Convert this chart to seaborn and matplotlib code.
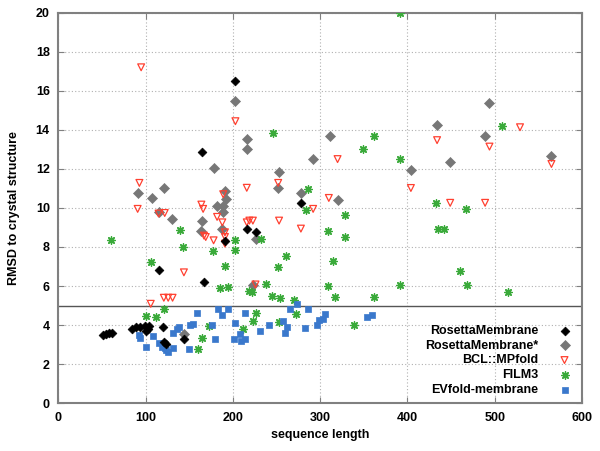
import matplotlib
matplotlib.use("Agg")
import pandas as pd
import seaborn as sns
from matplotlib import pyplot as plt

# values (sequence length, RMSD)
rosetta_x = [51, 55, 58, 62, 84, 89, 94, 99, 101, 103, 104, 120, 121, 123, 144,
             115, 167, 165, 203, 191, 216, 227, 278]
rosetta_y = [3.5, 3.55, 3.6, 3.6, 3.81, 3.88, 3.88, 3.93, 3.71, 3.79, 3.96, 3.9, 3.11, 3.05, 3.28,
             6.8, 6.22, 12.85, 16.5, 8.32, 8.92, 8.75, 10.26]

rosetta2_x = [144, 91, 121, 107, 116, 130, 165, 164, 178, 182, 189, 191, 192, 189, 188, 203,
              216, 216, 227, 223, 253, 252, 278, 292, 311, 320, 434, 449, 404, 489, 494, 565]
rosetta2_y = [3.54, 10.77, 11.03, 10.51, 9.77, 9.45, 9.33, 8.8, 12.05, 10.12, 10.1, 10.85, 10.48, 9.77, 8.92, 15.47,
              13.54, 13.04, 8.41, 6.07, 11.83, 11.03, 10.77, 12.5, 13.67, 10.43, 14.24, 12.34, 11.96, 13.66, 15.36, 12.68]

bcl_x = [95, 203, 320, 434, 494, 529, 565, 404, 449, 489,
         93, 91, 115, 122, 164, 166, 167, 169, 178, 144,
         189, 182, 188, 191, 191, 191, 216, 216, 219, 223,
         252, 253, 278, 292, 310, 226, 106, 121, 126, 131]
bcl_y = [17.2, 14.44, 12.5, 13.47, 13.14, 14.13, 12.25, 11.02, 10.26, 10.26,
         11.28, 9.95, 9.71, 9.74, 10.17, 9.95, 8.58, 8.51, 8.34, 6.7,
         10.7, 9.54, 9.26, 8.75, 8.51, 8.17, 11.03, 9.26, 9.35, 9.35,
         11.28, 9.35, 8.94, 9.95, 10.51, 6.08, 5.09, 5.4, 5.4, 5.4]

film_x = [392, 246, 362, 349, 392, 508, 433, 467, 435, 442, 460, 392, 468, 515,
          60, 106, 140, 143, 177, 203, 202, 191, 185, 195, 219,
          232, 286, 284, 329, 309, 329, 261, 252, 315, 238, 222, 309, 245, 254, 270, 317, 362,
          100, 112, 121, 160, 165, 173, 212, 223, 227, 253, 272, 339]
film_y = [20.0, 13.85, 13.7, 13.0, 12.52, 14.17, 10.26, 9.95, 8.92, 8.92, 6.75, 6.03, 6.07, 5.71,
          8.34, 7.21, 8.89, 8.0, 7.77, 8.34, 7.83, 7.0, 5.9, 5.93, 5.72,
          8.41, 10.99, 9.88, 9.66, 8.84, 8.51, 7.55, 6.95, 7.3, 6.1, 5.67, 6.02, 5.5, 5.37, 5.3, 5.45, 5.44,
          4.49, 4.41, 4.84, 2.77, 3.33, 3.93, 3.8, 4.2, 4.63, 4.14, 4.55, 3.98]

evfold_x = [93, 94, 100, 109, 115, 119, 122, 124, 126, 131, 131, 136, 138, 151, 154, 150, 159,
            176, 180, 183, 188, 195, 202, 201, 208, 209, 214, 214, 231, 242, 258, 262, 260,
            265, 274, 286, 283, 297, 299, 303, 306, 354, 360]
evfold_y = [3.5, 3.36, 2.9, 3.42, 3.08, 2.87, 2.82, 2.7, 2.6, 2.82, 3.59, 3.82, 3.9, 4.02, 4.07, 2.8, 4.62,
            4.0, 3.3, 4.82, 4.53, 4.82, 4.1, 3.31, 3.55, 3.21, 3.31, 4.61, 3.71, 4.0, 4.2, 3.9, 3.59,
            4.84, 5.09, 4.84, 3.83, 4.0, 4.24, 4.32, 4.58, 4.41, 4.51]

plt.rcParams['font.family'] = ['Liberation Sans', 'DejaVu Sans']
plt.rcParams['font.weight'] = 'bold'

fig = plt.figure(figsize=(6, 4.51), dpi=100)
ax = fig.add_axes([0.097, 0.106, 0.873, 0.866])

ax.grid(True, color='#b0b0b0', linestyle=(0, (1, 2)), linewidth=0.8)
ax.set_axisbelow(True)
ax.axhline(5, color='#555555', linewidth=1.0, zorder=1)

sns.scatterplot(x=rosetta_x, y=rosetta_y, ax=ax, marker='D', s=20, color='black',
                edgecolor='black', linewidth=0.5, label='RosettaMembrane', zorder=5)
sns.scatterplot(x=rosetta2_x, y=rosetta2_y, ax=ax, marker='D', s=26, color='#777777',
                edgecolor='#777777', linewidth=0.5, label='RosettaMembrane*', zorder=3)
sns.scatterplot(x=bcl_x, y=bcl_y, ax=ax, marker='v', s=24, facecolor='none',
                edgecolor='#ff4030', linewidth=0.9, label='BCL::MPfold', zorder=4)
sns.scatterplot(x=film_x, y=film_y, ax=ax, marker=(8, 2, 0), s=28, color='#3aaa3a',
                linewidth=1.0, label='FILM3', zorder=4)
sns.scatterplot(x=evfold_x, y=evfold_y, ax=ax, marker='s', s=16, color='#3a78cc',
                edgecolor='#3a78cc', linewidth=0.5, label='EVfold-membrane', zorder=4)

ax.set_xlim(0, 600)
ax.set_ylim(0, 20)
ax.set_xticks(range(0, 601, 100))
ax.set_yticks(range(0, 21, 2))
ax.tick_params(direction='in', top=True, right=True, color='#808080', length=4,
               labelsize=9, pad=6)
for sp in ax.spines.values():
    sp.set_color('#808080')
    sp.set_linewidth(1.5)

ax.set_xlabel('sequence length', fontsize=9, fontweight='bold')
ax.set_ylabel('RMSD to crystal structure', fontsize=9, fontweight='bold', labelpad=11)

leg = ax.legend(loc='lower right', bbox_to_anchor=(1.0, -0.01), frameon=False,
                markerfirst=False, fontsize=9, handletextpad=1.6, labelspacing=0.22,
                handlelength=1.0)

fig.savefig('out.png', dpi=100)
